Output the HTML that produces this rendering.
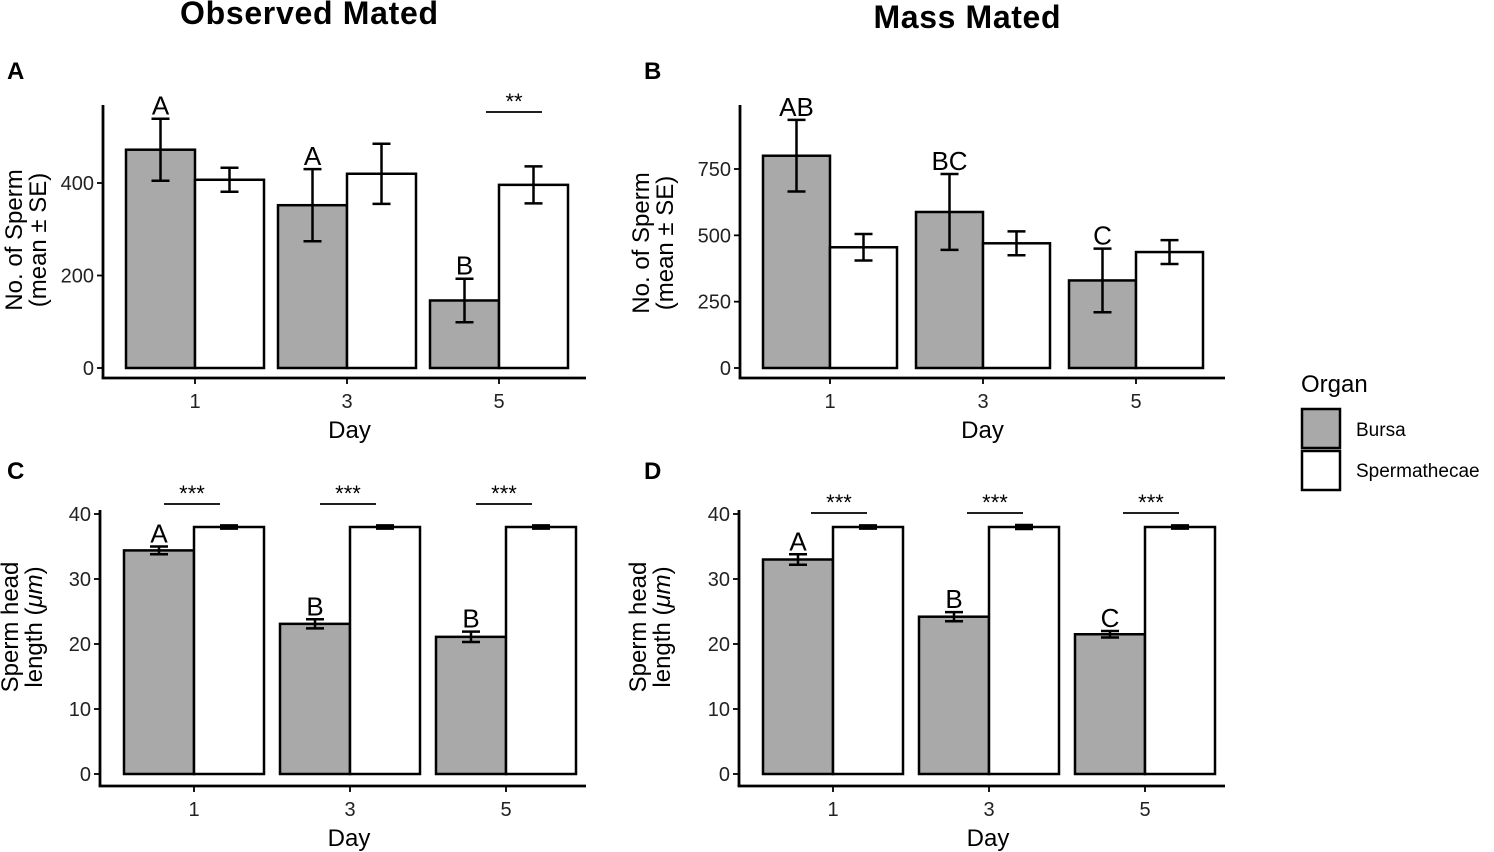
<!DOCTYPE html>
<html><head><meta charset="utf-8"><style>
html,body{margin:0;padding:0;background:#fff}
svg{display:block;font-family:"Liberation Sans",Arial,sans-serif}
</style></head><body>
<svg id="fig" width="1494" height="852" viewBox="0 0 1494 852" xmlns="http://www.w3.org/2000/svg">
<text x="309" y="24" font-size="32" font-weight="bold" text-anchor="middle" textLength="258">Observed Mated</text>
<text x="967" y="28" font-size="32" font-weight="bold" text-anchor="middle" textLength="187">Mass Mated</text>
<text x="7" y="79" font-size="24" font-weight="bold">A</text>
<text x="644" y="79" font-size="24" font-weight="bold">B</text>
<text x="7" y="479" font-size="24" font-weight="bold">C</text>
<text x="644" y="479" font-size="24" font-weight="bold">D</text>
<g>
<text x="1301" y="392" font-size="24">Organ</text>
<rect x="1302" y="409" width="38" height="39" fill="#a9a9a9" stroke="#000" stroke-width="2.5"/>
<rect x="1302" y="451" width="38" height="39" fill="#fff" stroke="#000" stroke-width="2.5"/>
<text x="1356" y="436" font-size="19">Bursa</text>
<text x="1356" y="477" font-size="19">Spermathecae</text>
</g>
</svg>
<script>
const days = ["1","3","5"];
const aBursa = [472, 352, 146];
const aBursaSE = [67, 78, 47];
const aSperm = [407, 420, 396];
const aSpermSE = [26, 65, 40];
const aLetters = ["A","A","B"];
const aStars = ["","","**"];
const aTicks = [0, 200, 400];

const bBursa = [800, 588, 330];
const bBursaSE = [135, 143, 120];
const bSperm = [455, 470, 437];
const bSpermSE = [50, 45, 45];
const bLetters = ["AB","BC","C"];
const bStars = ["","",""];
const bTicks = [0, 250, 500, 750];

const cBursa = [34.4, 23.1, 21.1];
const cBursaSE = [0.6, 0.7, 0.8];
const cSperm = [38.0, 38.0, 38.0];
const cSpermSE = [0.25, 0.25, 0.25];
const cLetters = ["A","B","B"];
const cStars = ["***","***","***"];
const cTicks = [0, 10, 20, 30, 40];

const dBursa = [33.0, 24.2, 21.5];
const dBursaSE = [0.8, 0.7, 0.5];
const dSperm = [38.0, 38.0, 38.0];
const dSpermSE = [0.25, 0.3, 0.25];
const dLetters = ["A","B","C"];
const dStars = ["***","***","***"];
const dTicks = [0, 10, 20, 30, 40];

const NS = "http://www.w3.org/2000/svg";
const svg = document.getElementById("fig");
function mk(tag, attrs, parent, txt){
  const e = document.createElementNS(NS, tag);
  for (const k in attrs) e.setAttribute(k, attrs[k]);
  if (txt !== undefined) e.textContent = txt;
  parent.appendChild(e);
  return e;
}
function panel(p){
  const g = mk("g", {}, svg);
  
  
  const y = v => p.y0 - v * p.scale;
  const x = i => p.x0 + i * p.step;
  const ya = mk("line", {x1:p.ax, x2:p.ax, y1:p.axTop, y2:p.axBottom, stroke:"#000","stroke-width":2.8}, g);
  
  
  const xa = mk("line", {x1:p.ax-1.4, x2:p.axRight, y1:p.axBottom, y2:p.axBottom, stroke:"#000","stroke-width":2.8}, g);
  
  
  p.ticks.forEach(t => {
    const l = mk("line", {x1:p.ax-6, x2:p.ax, y1:y(t), y2:y(t), stroke:"#000","stroke-width":1.8}, g);
    
    
    const tx = mk("text", {x:p.ax-9, y:y(t)+7, "font-size":20, "text-anchor":"end", fill:"#222"}, g, String(t));
    
    
  });
  const bw = p.bw;
  days.forEach((d, i) => {
    const cx = x(i);
    const tl = mk("line", {x1:cx, x2:cx, y1:p.axBottom, y2:p.axBottom+6, stroke:"#000","stroke-width":1.8}, g);
    
    
    const tt = mk("text", {x:cx, y:p.axBottom+30, "font-size":20, "text-anchor":"middle", fill:"#222"}, g, d);
    
    
    const series = [[p.bursa[i], p.bursaSE[i], "#a9a9a9", cx - bw, "bar-bursa-day" + d],
                    [p.sperm[i], p.spermSE[i], "#fff", cx, "bar-spermathecae-day" + d]];
    series.forEach(s => {
      const r = mk("rect", {x:s[3], y:y(s[0]), width:bw, height:y(0)-y(s[0]), fill:s[2], stroke:"#000","stroke-width":2.5}, g);
      
      
      const ex = s[3] + bw/2;
      const eg = mk("g", {stroke:"#000","stroke-width":2.5}, g);
      
      
      mk("line", {x1:ex, x2:ex, y1:y(s[0]+s[1]), y2:y(s[0]-s[1])}, eg);
      mk("line", {x1:ex-9, x2:ex+9, y1:y(s[0]+s[1]), y2:y(s[0]+s[1])}, eg);
      mk("line", {x1:ex-9, x2:ex+9, y1:y(s[0]-s[1]), y2:y(s[0]-s[1])}, eg);
    });
    const lt = mk("text", {x:cx - bw/2, y:y(p.bursa[i]+p.bursaSE[i]) - 4, "font-size":26, "text-anchor":"middle"}, g, p.letters[i]);
    
    
    if (p.stars[i]) {
      const lc = cx + p.starOff;
      const sl = mk("line", {x1:lc - 28, x2:lc + 28, y1:p.starY, y2:p.starY, stroke:"#000","stroke-width":1.8}, g);
      
      
      const st = mk("text", {x:lc, y:p.starY - 3, "font-size":22, "text-anchor":"middle"}, g, p.stars[i]);
      
      
    }
  });
  const xt = mk("text", {x:(p.ax+p.axRight)/2 + p.dayShift, y:p.axBottom+60, "font-size":24, "text-anchor":"middle"}, g, "Day");
  
  
  const yt = mk("text", {transform:"translate(" + p.titleX + "," + p.titleY + ") rotate(-90)", "font-size":24, "text-anchor":"middle"}, g);
  
  
  mk("tspan", {x:0, y:-4}, yt, p.title[0]);
  const t2 = mk("tspan", {x:0, y:20}, yt);
  t2.innerHTML = p.title[1];
}
panel({name:"panel-a", x0:195, step:152, bw:69, y0:368, scale:92.5/200, ax:103, axTop:105, axBottom:378, axRight:586,
  ticks:aTicks, bursa:aBursa, bursaSE:aBursaSE, sperm:aSperm, spermSE:aSpermSE, letters:aLetters, stars:aStars,
  starY:112, starOff:15, dayShift:5, titleX:26, titleY:240, title:["No. of Sperm","(mean ± SE)"]});
panel({name:"panel-b", x0:830, step:153, bw:67, y0:368, scale:199/750, ax:740, axTop:105, axBottom:378, axRight:1225,
  ticks:bTicks, bursa:bBursa, bursaSE:bBursaSE, sperm:bSperm, spermSE:bSpermSE, letters:bLetters, stars:bStars,
  starY:112, starOff:0, dayShift:0, titleX:653, titleY:243, title:["No. of Sperm","(mean ± SE)"]});
panel({name:"panel-c", x0:194, step:156, bw:70, y0:774, scale:260/40, ax:100, axTop:510, axBottom:786, axRight:586,
  ticks:cTicks, bursa:cBursa, bursaSE:cBursaSE, sperm:cSperm, spermSE:cSpermSE, letters:cLetters, stars:cStars,
  starY:504, starOff:-2, dayShift:6, titleX:22, titleY:627, title:["Sperm head","length (<tspan font-style='italic'>μm</tspan>)"]});
panel({name:"panel-d", x0:833, step:156, bw:70, y0:774, scale:260/40, ax:739, axTop:510, axBottom:786, axRight:1225,
  ticks:dTicks, bursa:dBursa, bursaSE:dBursaSE, sperm:dSperm, spermSE:dSpermSE, letters:dLetters, stars:dStars,
  starY:513, starOff:6, dayShift:6, titleX:650, titleY:627, title:["Sperm head","length (<tspan font-style='italic'>μm</tspan>)"]});
</script>
</body></html>
